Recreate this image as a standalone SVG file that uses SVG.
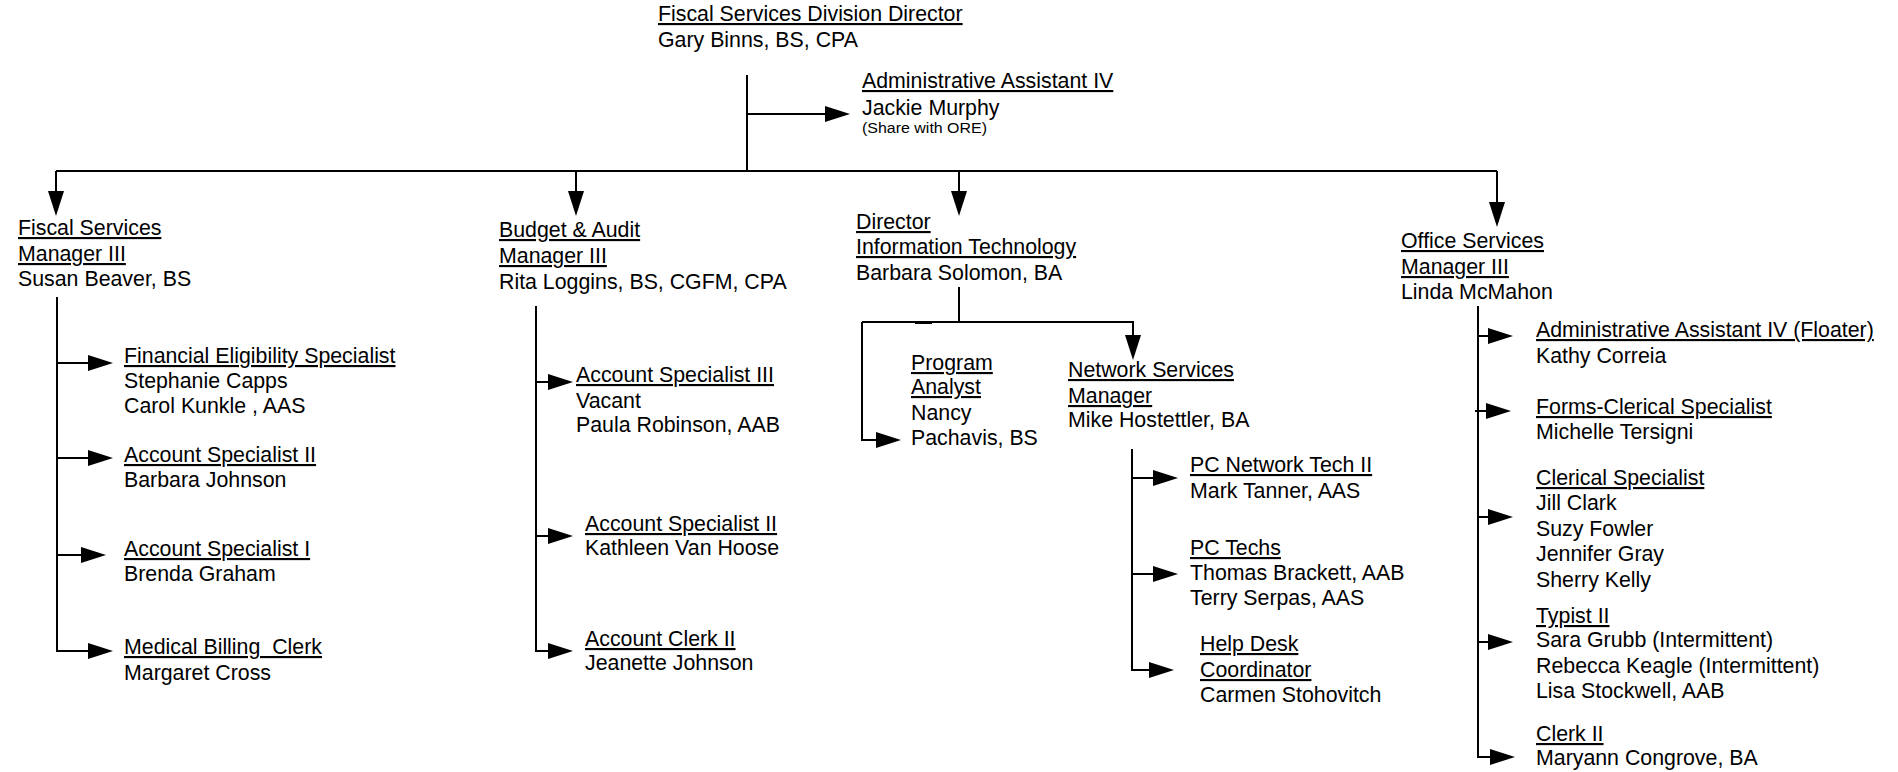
<svg xmlns="http://www.w3.org/2000/svg" width="1898" height="772" viewBox="0 0 1898 772">
<style>
text{font-family:"Liberation Sans",Arial,sans-serif;font-size:21.33px;fill:#000}
.u{text-decoration:underline}
.sm{font-size:14px}
.c{fill:none;stroke:#000;stroke-width:2}
</style>
<defs>
<marker id="ah" markerUnits="userSpaceOnUse" markerWidth="25" markerHeight="16" refX="0" refY="8" orient="auto" overflow="visible">
<path d="M0,0 L25,8 L0,16 Z" fill="#000"/>
</marker>
</defs>
<rect width="1898" height="772" fill="#fff"/>
<g id="connectors">
<path class="c" d="M747,75 V171"/>
<path class="c" d="M747,114 H825" marker-end="url(#ah)"/>
<path class="c" d="M56,171 H1497"/>
<path class="c" d="M56,171 V191" marker-end="url(#ah)"/>
<path class="c" d="M576,171 V191" marker-end="url(#ah)"/>
<path class="c" d="M959,171 V191" marker-end="url(#ah)"/>
<path class="c" d="M1497,171 V202" marker-end="url(#ah)"/>
<path class="c" d="M57,297 V651 H88" marker-end="url(#ah)"/>
<path class="c" d="M57,363 H88" marker-end="url(#ah)"/>
<path class="c" d="M57,458 H88" marker-end="url(#ah)"/>
<path class="c" d="M57,555 H81" marker-end="url(#ah)"/>
<path class="c" d="M536,306 V651 H548" marker-end="url(#ah)"/>
<path class="c" d="M536,382 H548" marker-end="url(#ah)"/>
<path class="c" d="M536,536 H548" marker-end="url(#ah)"/>
<path class="c" d="M959,287 V322"/>
<path class="c" d="M862,322 H1133 V335" marker-end="url(#ah)"/>
<path class="c" d="M862,322 V440 H876" marker-end="url(#ah)"/>
<path class="c" d="M915,323 H932"/>
<path class="c" d="M1132,449 V670 H1149" marker-end="url(#ah)"/>
<path class="c" d="M1132,478 H1153" marker-end="url(#ah)"/>
<path class="c" d="M1132,574 H1153" marker-end="url(#ah)"/>
<path class="c" d="M1478,306 V757 H1490" marker-end="url(#ah)"/>
<path class="c" d="M1478,336 H1488" marker-end="url(#ah)"/>
<path class="c" d="M1475,411 H1486" marker-end="url(#ah)"/>
<path class="c" d="M1478,517 H1488" marker-end="url(#ah)"/>
<path class="c" d="M1478,642 H1488" marker-end="url(#ah)"/>
</g>
<g id="director">
<text x="658" y="21" class="u">Fiscal Services Division Director</text>
<text x="658" y="47">Gary Binns, BS, CPA</text>
</g>
<g id="admin-assistant">
<text x="862" y="88" class="u">Administrative Assistant IV</text>
<text x="862" y="115">Jackie Murphy</text>
<text x="862" y="133" class="sm" textLength="125" lengthAdjust="spacingAndGlyphs">(Share with ORE)</text>
</g>
<g id="fiscal-manager">
<text x="18" y="235" class="u">Fiscal Services</text>
<text x="18" y="261" class="u">Manager III</text>
<text x="18" y="286">Susan Beaver, BS</text>
</g>
<g id="financial-eligibility">
<text x="124" y="363" class="u">Financial Eligibility Specialist</text>
<text x="124" y="388">Stephanie Capps</text>
<text x="124" y="413">Carol Kunkle , AAS</text>
</g>
<g id="fiscal-acct-spec-2">
<text x="124" y="462" class="u">Account Specialist II</text>
<text x="124" y="487">Barbara Johnson</text>
</g>
<g id="fiscal-acct-spec-1">
<text x="124" y="556" class="u">Account Specialist I</text>
<text x="124" y="581">Brenda Graham</text>
</g>
<g id="medical-billing">
<text x="124" y="654" class="u" xml:space="preserve">Medical Billing  Clerk</text>
<text x="124" y="680">Margaret Cross</text>
</g>
<g id="budget-manager">
<text x="499" y="237" class="u">Budget &amp; Audit</text>
<text x="499" y="263" class="u">Manager III</text>
<text x="499" y="289">Rita Loggins, BS, CGFM, CPA</text>
</g>
<g id="budget-acct-spec-3">
<text x="576" y="382" class="u">Account Specialist III</text>
<text x="576" y="408">Vacant</text>
<text x="576" y="432">Paula Robinson, AAB</text>
</g>
<g id="budget-acct-spec-2">
<text x="585" y="531" class="u">Account Specialist II</text>
<text x="585" y="555">Kathleen Van Hoose</text>
</g>
<g id="budget-acct-clerk-2">
<text x="585" y="646" class="u">Account Clerk II</text>
<text x="585" y="670">Jeanette Johnson</text>
</g>
<g id="it-director">
<text x="856" y="229" class="u">Director</text>
<text x="856" y="254" class="u">Information Technology</text>
<text x="856" y="280">Barbara Solomon, BA</text>
</g>
<g id="program-analyst">
<text x="911" y="370" class="u">Program</text>
<text x="911" y="394" class="u">Analyst</text>
<text x="911" y="420">Nancy</text>
<text x="911" y="445">Pachavis, BS</text>
</g>
<g id="network-manager">
<text x="1068" y="377" class="u">Network Services</text>
<text x="1068" y="403" class="u">Manager</text>
<text x="1068" y="427">Mike Hostettler, BA</text>
</g>
<g id="pc-network-tech">
<text x="1190" y="472" class="u">PC Network Tech II</text>
<text x="1190" y="498">Mark Tanner, AAS</text>
</g>
<g id="pc-techs">
<text x="1190" y="555" class="u">PC Techs</text>
<text x="1190" y="580">Thomas Brackett, AAB</text>
<text x="1190" y="605">Terry Serpas, AAS</text>
</g>
<g id="help-desk">
<text x="1200" y="651" class="u">Help Desk</text>
<text x="1200" y="677" class="u">Coordinator</text>
<text x="1200" y="702">Carmen Stohovitch</text>
</g>
<g id="office-manager">
<text x="1401" y="248" class="u">Office Services</text>
<text x="1401" y="274" class="u">Manager III</text>
<text x="1401" y="299">Linda McMahon</text>
</g>
<g id="admin-floater">
<text x="1536" y="337" class="u">Administrative Assistant IV (Floater)</text>
<text x="1536" y="363">Kathy Correia</text>
</g>
<g id="forms-clerical">
<text x="1536" y="414" class="u">Forms-Clerical Specialist</text>
<text x="1536" y="439">Michelle Tersigni</text>
</g>
<g id="clerical-specialist">
<text x="1536" y="485" class="u">Clerical Specialist</text>
<text x="1536" y="510">Jill Clark</text>
<text x="1536" y="536">Suzy Fowler</text>
<text x="1536" y="561">Jennifer Gray</text>
<text x="1536" y="587">Sherry Kelly</text>
</g>
<g id="typist">
<text x="1536" y="623" class="u">Typist II</text>
<text x="1536" y="647">Sara Grubb (Intermittent)</text>
<text x="1536" y="673">Rebecca Keagle (Intermittent)</text>
<text x="1536" y="698">Lisa Stockwell, AAB</text>
</g>
<g id="clerk-2">
<text x="1536" y="741" class="u">Clerk II</text>
<text x="1536" y="765">Maryann Congrove, BA</text>
</g>
</svg>
